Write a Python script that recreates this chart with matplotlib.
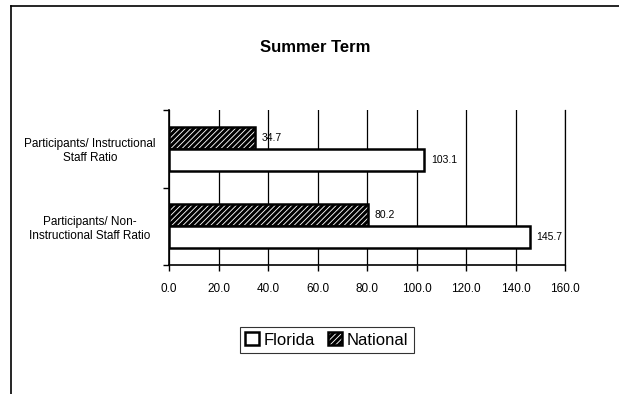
import matplotlib.pyplot as plt
import matplotlib.lines as mlines
import numpy as np

plt.rcParams["font.family"] = ["Liberation Sans", "DejaVu Sans"]
plt.rcParams["hatch.linewidth"] = 2.2

categories = ["Participants/ Instructional\nStaff Ratio",
              "Participants/ Non-\nInstructional Staff Ratio"]
florida = [103.1, 145.7]
national = [34.7, 80.2]
xticks = [0, 20, 40, 60, 80, 100, 120, 140, 160]

fig = plt.figure(figsize=(6.19, 3.94), dpi=100)
ax = fig.add_axes([0.273, 0.327, 0.640, 0.394])

# category centres, top one first
yc = np.array([1.5, 0.5])
h = 0.284
b_nat = ax.barh(yc + h / 2, national, height=h, color="white", edgecolor="black",
                lw=1.8, hatch="//////", label="National")
b_fl = ax.barh(yc - h / 2, florida, height=h, color="white", edgecolor="black",
               lw=1.8, label="Florida")
for bars, vals in ((b_nat, national), (b_fl, florida)):
    for r, v in zip(bars, vals):
        ax.annotate(f"{v:.1f}", (v, r.get_y() + r.get_height() / 2),
                    xytext=(5, 0), textcoords="offset points",
                    va="center", ha="left", fontsize=7.5)

ax.set_xlim(0, 160)
ax.set_ylim(0, 2)
ax.set_xticks(xticks)
ax.set_xticklabels([f"{t:.1f}" for t in xticks], fontsize=8.5)
ax.set_yticks([0, 1, 2])
ax.set_yticklabels([])
ax.set_yticks(yc, minor=True)
ax.set_yticklabels(categories, minor=True, fontsize=8.5, ha="center")
ax.tick_params(axis="y", which="minor", length=0, pad=57)
ax.tick_params(axis="both", which="major", direction="out", length=4, width=1,
               color="black")
ax.tick_params(axis="x", pad=9)
ax.grid(axis="x", color="black", lw=0.9)
ax.set_axisbelow(True)
ax.spines["top"].set_visible(False)
ax.spines["right"].set_linewidth(0.9)
for s in ("left", "bottom"):
    ax.spines[s].set_linewidth(1.2)

fig.text(0.509, 0.88, "Summer Term", ha="center", va="center",
         fontsize=12, fontweight="bold")

leg = fig.legend(handles=[b_fl, b_nat], labels=["Florida", "National"],
                 loc="center", bbox_to_anchor=(0.528, 0.137), ncol=2,
                 fontsize=12, frameon=True, fancybox=False, edgecolor="black",
                 handlelength=0.8, handleheight=0.8, handletextpad=0.3,
                 columnspacing=0.8, borderpad=0.35)
leg.get_frame().set_linewidth(0.8)

# outer chart frame (top and left only, the rest is cropped)
fig.add_artist(mlines.Line2D([0.018, 1.0], [0.985, 0.985], color="black", lw=1.2))
fig.add_artist(mlines.Line2D([0.018, 0.018], [0.0, 0.985], color="black", lw=1.2))

fig.savefig("out.png", dpi=100)
